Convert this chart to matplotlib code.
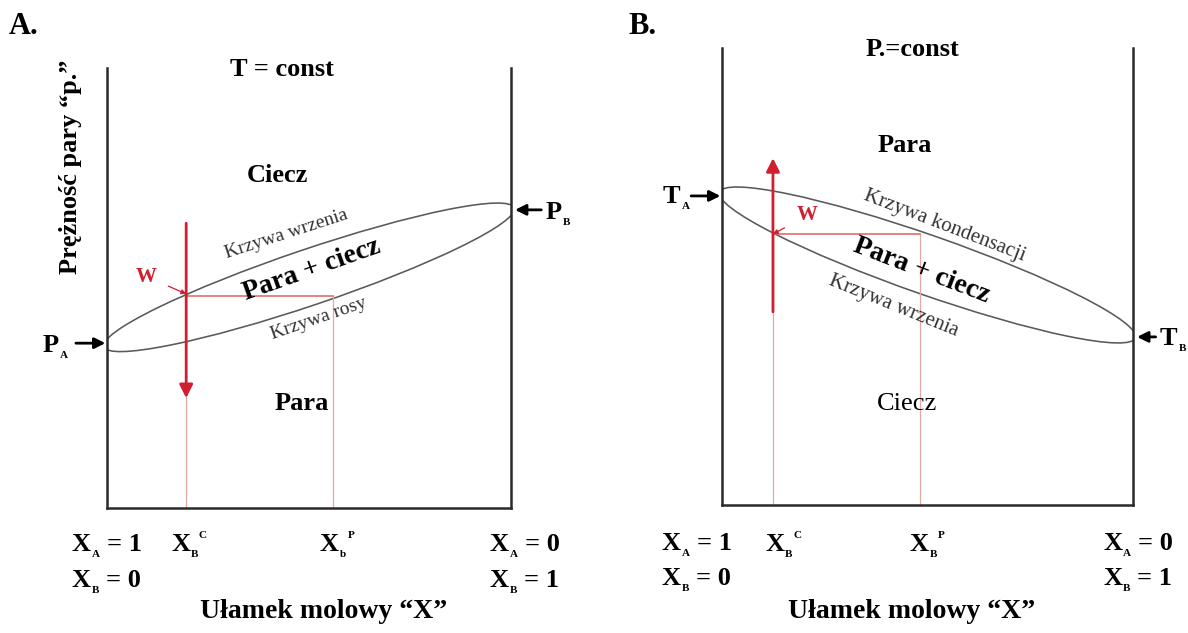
import matplotlib
matplotlib.use("Agg")
import matplotlib.pyplot as plt
from matplotlib.patches import Ellipse

plt.rcParams["font.family"] = ["Liberation Serif", "DejaVu Serif"]

# --- Panel A: T = const (pressure vs. mole fraction) ---
a_pure_p = [0.408, 0.738]          # P_A, P_B
a_tie_y = 0.525                    # pressure of the tie line through W
a_x_c = 0.196                      # X_B^C (liquid composition)
a_x_p = 0.559                      # X_b^P (vapour composition)
a_arrow_y = [0.705, 0.272]         # red path: start -> end
a_lens = dict(xy=(0.5, 0.571), width=1.072, height=0.138, angle=18.7)

# --- Panel B: P = const (temperature vs. mole fraction) ---
b_pure_t = [0.752, 0.409]          # T_A, T_B
b_tie_y = 0.659
b_x_c = 0.124
b_x_p = 0.482
b_arrow_y = [0.470, 0.844]
b_lens = dict(xy=(0.5, 0.584), width=1.072, height=0.144, angle=-19.3)

W, H = 1188, 633
fig = plt.figure(figsize=(W / 100, H / 100), dpi=100)
renderer = fig.canvas.get_renderer()


def fx(x):
    return x / W


def fy(y):
    return 1 - y / H


def make_axes(x0, x1, ytop, ybot):
    ax = fig.add_axes([fx(x0), fy(ybot), (x1 - x0) / W, (ybot - ytop) / H])
    ax.set_xlim(0, 1)
    ax.set_ylim(0, (ybot - ytop) / (x1 - x0))
    ax.set_xticks([])
    ax.set_yticks([])
    ax.spines["top"].set_visible(False)
    for s in ("left", "right", "bottom"):
        ax.spines[s].set_linewidth(1.8)
        ax.spines[s].set_color("#2a2a2a")
    ax.patch.set_alpha(0)
    return ax


RED = "#d01f2e"
PINK = "#e3a9a3"
TIE = "#e06060"
GREY = "#5a5a5a"
BIG = 19
SMALL = 8

axA = make_axes(107, 511, 68, 508)
axB = make_axes(722, 1133, 48, 505)


def draw_panel(ax, lens, tie_y, x_c, x_p, arrow_y):
    ax.add_patch(Ellipse(fc="none", ec=GREY, lw=1.15, clip_on=True, **lens))
    # thin guide lines down to the composition axis
    ax.plot([x_c, x_c], [0, tie_y], color=PINK, lw=0.9)
    ax.plot([x_p, x_p], [0, tie_y], color=PINK, lw=0.9)
    # tie line
    ax.plot([x_c, x_p], [tie_y, tie_y], color=TIE, lw=1.1)
    # process path
    ax.annotate("", xy=(x_c, arrow_y[1]), xytext=(x_c, arrow_y[0]),
                arrowprops=dict(arrowstyle="-|>", color=RED, lw=2.0,
                                mutation_scale=20, shrinkA=0, shrinkB=0))


draw_panel(axA, a_lens, a_tie_y, a_x_c, a_x_p, a_arrow_y)
draw_panel(axB, b_lens, b_tie_y, b_x_c, b_x_p, b_arrow_y)

# W markers
axA.annotate("W", xy=(a_x_c, a_tie_y + 0.005), xytext=(0.097, 0.573),
             color=RED, fontsize=15, fontweight="bold", ha="center", va="center",
             arrowprops=dict(arrowstyle="-|>", color=RED, lw=0.9,
                             mutation_scale=7, shrinkA=7, shrinkB=0),
             annotation_clip=False)
axB.annotate("W", xy=(b_x_c, b_tie_y), xytext=(0.208, 0.705),
             color=RED, fontsize=15, fontweight="bold", ha="center", va="center",
             arrowprops=dict(arrowstyle="-|>", color=RED, lw=0.9,
                             mutation_scale=7, shrinkA=8, shrinkB=0),
             annotation_clip=False)

# pure-component arrows
arrow_kw = dict(arrowstyle="-|>", color="black", lw=2.0, mutation_scale=16,
                shrinkA=0, shrinkB=0)
axA.annotate("", xy=(-0.004, a_pure_p[0]), xytext=(-0.077, a_pure_p[0]),
             arrowprops=arrow_kw, annotation_clip=False)
axA.annotate("", xy=(1.01, a_pure_p[1]), xytext=(1.075, a_pure_p[1]),
             arrowprops=arrow_kw, annotation_clip=False)
axB.annotate("", xy=(-0.004, b_pure_t[0]), xytext=(-0.075, b_pure_t[0]),
             arrowprops=arrow_kw, annotation_clip=False)
axB.annotate("", xy=(1.01, b_pure_t[1]), xytext=(1.055, b_pure_t[1]),
             arrowprops=arrow_kw, annotation_clip=False)

bold = dict(fontweight="bold", fontsize=BIG, ha="center", va="center")


def t(x, y, s, **kw):
    opts = dict(bold)
    opts.update(kw)
    return fig.text(fx(x), fy(y), s, **opts)


def sym(x, base, main, sub, rest="", sup=None):
    """Bold symbol with a small subscript (and optional superscript),
    placed from its left edge x and baseline y in pixels."""
    m = t(x, base, main, ha="left", va="baseline")
    xe = x + m.get_window_extent(renderer).width
    s = t(xe + 1, base + 6, sub, ha="left", va="baseline", fontsize=SMALL)
    xs = xe + 1 + s.get_window_extent(renderer).width
    if sup is not None:
        t(xe + 9, base - 13, sup, ha="left", va="baseline", fontsize=SMALL)
    if rest:
        t(xs + 7, base, rest, ha="left", va="baseline")


# panel letters and titles
t(24, 27, "A.", fontsize=22)
t(643, 27, "B.", fontsize=22)
t(282, 69, "T = const")
t(912, 50, "P.=const")
t(71, 167, "Prężność pary \u201cp.\u201d", rotation=90)

# pure-component labels
sym(43, 352, "P", "A")
sym(546, 219, "P", "B")
sym(663, 203, "T", "A")
sym(1160, 345, "T", "B")

# region labels, panel A
t(277, 175, "Ciecz")
t(302, 404, "Para")
t(312, 270, "Para + ciecz", rotation=19.5, fontsize=20)
t(286, 234, "Krzywa wrzenia", rotation=18, fontweight="normal", fontsize=14,
  color="#333333")
t(319, 319, "Krzywa rosy", rotation=19, fontweight="normal", fontsize=14,
  color="#333333")

# region labels, panel B
t(905, 145, "Para")
t(907, 404, "Ciecz", fontweight="normal")
t(922, 271, "Para + ciecz", rotation=-21, fontsize=20)
t(945, 226, "Krzywa kondensacji", rotation=-21, fontweight="normal",
  fontsize=15, color="#333333")
t(894, 306, "Krzywa wrzenia", rotation=-22, fontweight="normal", fontsize=15,
  color="#333333")

# composition axis labels
sym(72, 551, "X", "A", "= 1")
sym(72, 587, "X", "B", "= 0")
sym(171, 551, "X", "B", sup="C")
sym(320, 551, "X", "b", sup="P")
sym(490, 551, "X", "A", "= 0")
sym(490, 587, "X", "B", "= 1")
t(324, 612, "Ułamek molowy \u201cX\u201d", fontsize=20)

sym(662, 550, "X", "A", "= 1")
sym(662, 585, "X", "B", "= 0")
sym(765, 551, "X", "B", sup="C")
sym(910, 551, "X", "B", sup="P")
sym(1103, 550, "X", "A", "= 0")
sym(1103, 585, "X", "B", "= 1")
t(912, 612, "Ułamek molowy \u201cX\u201d", fontsize=20)

fig.savefig("out.png", dpi=100, facecolor="white")
